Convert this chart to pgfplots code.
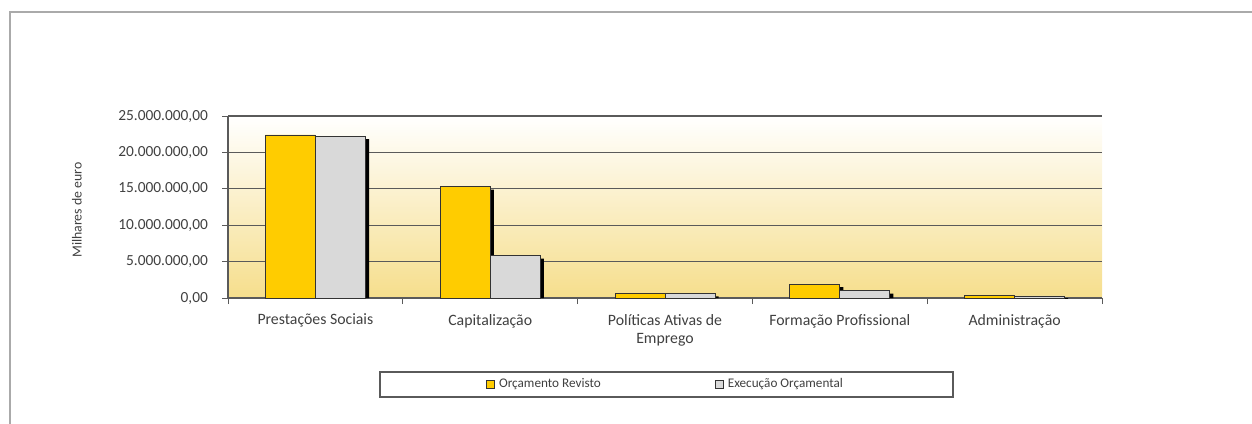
\documentclass[border=0pt]{standalone}
\usepackage{pgfplots}
\pgfplotsset{compat=1.18}
\usepackage{fontspec}
\setmainfont{Carlito}
\definecolor{barO}{RGB}{255,204,0}
\definecolor{barG}{RGB}{217,217,217}
\definecolor{bgGold}{RGB}{246,222,140}
\definecolor{txt}{RGB}{64,64,64}
\definecolor{gridc}{RGB}{90,90,90}
\definecolor{framec}{RGB}{170,170,170}
\pgfplotstableread{
x orc exe orcs exes
0 22400000 22250000 21990000 21840000
1 15300000 5810000 14890000 5400000
2 650000 620000 240000 210000
3 1920000 1000000 1510000 590000
4 300000 280000 -110000 -130000
}\data
\begin{document}
\begin{tikzpicture}
\useasboundingbox (0,0) rectangle (626pt,-211.5pt);
\draw[framec, line width=0.9pt] (5pt,-240pt) -- (5pt,-6pt) -- (700pt,-6pt);
\node[rotate=90, font=\fontsize{6.9}{8}\selectfont, text=txt] at (38.5pt,-105pt) {Milhares de euro};
\begin{axis}[
  at={(114pt,-149pt)}, anchor=south west,
  scale only axis, width=437pt, height=91pt,
  xmin=-0.5, xmax=4.5, ymin=0, ymax=25000000,
  axis x line*=bottom, axis y line*=left,
  axis line style={gridc, line width=0.6pt},
  xtick={0,1,2,3,4},
  xticklabels={Prestações Sociais, Capitalização, {Políticas Ativas de\\Emprego}, Formação Profissional, Administração},
  xticklabel style={align=center, font=\fontsize{7.9}{9}\selectfont, text=txt, yshift=-1.5pt},
  x tick style={draw=none},
  extra x ticks={-0.5,0.5,1.5,2.5,3.5,4.5},
  extra x tick labels={},
  extra x tick style={x tick style={draw=gridc, line width=0.5pt}, major tick length=3pt, tick align=outside, grid=none},
  ytick={0,5000000,10000000,15000000,20000000,25000000},
  scaled y ticks=false,
  yticklabel style={font=\fontsize{7.7}{9}\selectfont, text=txt, xshift=-3.5pt, /pgf/number format/.cd, fixed, fixed zerofill, precision=2, use comma, 1000 sep={.}, assume math mode=true},
  y tick style={draw=gridc, line width=0.5pt},
  major tick length=3pt, tick align=outside,
  ymajorgrids, major grid style={gridc, line width=0.6pt},
  axis background/.style={top color=white, bottom color=bgGold},
  ybar, bar width=25pt,
  legend columns=2,
  legend style={at={(axis description cs:0.5017,-0.475)}, anchor=center,
    draw=gridc, line width=0.6pt, inner xsep=53pt, inner ysep=1.2pt,
    font=\fontsize{6.6}{7.5}\selectfont, text=txt,
    /tikz/every even column/.append style={column sep=55pt}},
]
\addplot[fill=black, draw=none, bar shift=-10.7pt, forget plot] table[x=x, y=orcs] {\data};
\addplot[fill=barO, draw=black!80, line width=0.4pt, bar shift=-12.5pt,
  legend image code/.code={\draw[fill=barO, draw=black!80, line width=0.5pt] (0pt,-2pt) rectangle (4pt,2pt);}]
  table[x=x, y=orc] {\data};
\addlegendentry{Orçamento Revisto}
\addplot[fill=black, draw=none, bar shift=14.3pt, forget plot] table[x=x, y=exes] {\data};
\addplot[fill=barG, draw=black!80, line width=0.4pt, bar shift=12.5pt,
  legend image code/.code={\draw[fill=barG, draw=black!80, line width=0.5pt] (0pt,-2pt) rectangle (4pt,2pt);}]
  table[x=x, y=exe] {\data};
\addlegendentry{Execução Orçamental}
\end{axis}
\end{tikzpicture}
\end{document}
